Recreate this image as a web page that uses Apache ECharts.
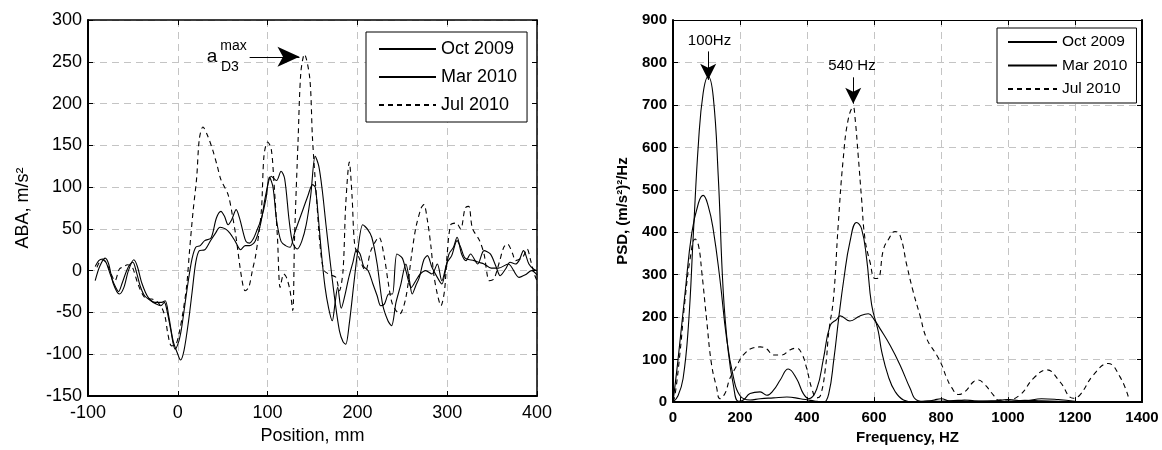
<!DOCTYPE html>
<html>
<head>
<meta charset="utf-8">
<script src="https://cdn.jsdelivr.net/npm/echarts@6/dist/echarts.min.js"></script>
<style>
html,body{margin:0;padding:0;background:#fff;}
#chart{width:1162px;height:450px;}
</style>
</head>
<body>
<div id="chart"></div>
<script>
// ---------- DATA ----------
const seriesNames = ['Oct 2009', 'Mar 2010', 'Jul 2010'];

// Left chart: ABA vs position
const posOct = [-92,-87,-81,-77,-72,-65,-60,-55,-49,-45,
  -40,-33,-25,-18,-14,-10,-5,0,3,7,
  12,16,20,24,30,36,42,47,53,58,
  64,70,75,80,86,92,98,104,110,115,
  119,124,128,133,138,143,148,153,157,161,
  165,170,175,180,184,187,191,196,200,206,
  211,216,222,228,234,238,243,248,254,258,
  261,265,269,274,278,283,289,294,298,302,
  307,311,316,321,326,334,341,348,354,359,
  365,370,376,380,385,391,396,400];
const abaOct = [-12,5,15,8,-15,-28,-20,0,13,5,
  -15,-32,-38,-38,-36,-55,-85,-100,-107,-95,
  -60,-25,10,24,25,35,45,52,50,45,
  35,25,30,30,35,55,91,113,108,119,
  110,60,33,26,35,55,90,137,125,95,
  55,8,-36,-72,-85,-88,-63,-16,20,55,
  50,40,8,-40,-60,-66,-38,-18,8,-12,
  -28,-18,-8,13,18,4,-8,-16,0,20,
  28,40,20,12,20,8,24,20,6,-6,
  2,10,8,12,24,8,2,0];

const posMar = [-92,-88,-84,-80,-75,-70,-66,-62,-57,-53,
  -50,-46,-42,-37,-30,-24,-19,-15,-12,-8,
  -3,1,4,8,12,16,20,25,30,37,
  43,48,52,56,60,65,69,73,76,80,
  84,88,93,98,102,106,110,115,120,125,
  130,135,140,145,150,153,156,160,164,168,
  172,175,178,182,186,190,195,199,203,207,
  212,217,222,226,230,235,239,244,250,254,
  260,265,270,276,283,289,294,300,305,311,
  315,320,330,335,341,349,357,368,380,387,
  394,400];
const abaMar = [5,12,14,10,-5,-18,-25,-15,0,8,
  10,-2,-18,-30,-36,-40,-42,-38,-48,-70,
  -94,-85,-70,-40,-10,15,28,30,36,39,
  63,71,65,55,61,73,62,45,35,33,
  38,48,62,85,112,100,60,35,30,28,
  45,60,75,90,103,100,70,20,-20,-45,
  -60,-40,-20,-45,-30,-10,10,25,20,5,
  0,-15,-30,-42,-40,-28,-28,20,15,0,
  -20,-12,-4,0,-4,8,-12,10,18,36,
  28,15,12,10,8,3,3,8,-8,-5,
  0,-5];

const posJul = [-90,-85,-80,-75,-70,-65,-60,-56,-51,-44,
  -37,-29,-24,-18,-14,-11,-7,-2,2,6,
  10,13,17,21,24,28,33,39,44,48,
  56,61,65,71,75,79,83,87,93,96,
  100,104,107,111,114,118,121,125,128,130,
  134,137,141,147,150,155,159,163,170,176,
  180,184,187,191,194,197,202,209,215,224,
  230,234,239,247,254,260,265,271,274,278,
  282,285,289,293,297,300,304,310,315,320,
  324,328,336,341,347,352,358,363,367,373,
  376,384,389,393,397,400];
const abaJul = [4,13,10,-2,-12,2,5,7,5,-17,
  -32,-34,-36,-44,-56,-76,-90,-88,-72,-48,
  -17,23,71,111,158,172,162,144,125,109,
  91,65,39,-8,-24,-20,0,20,71,138,
  154,146,107,39,-20,-4,-8,-24,-48,39,
  158,237,259,230,158,79,24,0,-5,-8,
  -24,0,79,130,90,31,15,0,24,40,
  16,-12,-40,-52,-32,16,51,75,79,60,
  28,-4,-28,-42,-24,20,55,57,50,75,
  77,51,36,20,-12,-10,10,28,32,20,
  12,16,26,12,-4,-12];

// Right chart: PSD vs frequency
const freqOct = [0,15,30,46,61,76,90,105,120,135,
  150,165,180,195,210,230,260,280,300,320,
  344,369,389,405,429,449,469,489,499,528,
  558,583,600,618,648,678,708,727,757,780,
  800,830,870,900,950,1000,1050,1100,1150,1200];
const psdOct = [0,15,55,180,400,611,728,767,720,533,
  260,119,41,2,5,20,24,16,28,52,
  78,55,20,8,31,102,180,195,203,191,
  203,208,195,173,134,87,32,5,1,5,
  8,2,5,3,2,6,3,8,6,2];

const freqMar = [0,15,36,56,76,90,105,120,140,160,
  180,200,230,260,300,340,380,410,430,450,
  465,480,495,510,528,548,563,578,593,613,
  623,643,663,688,720,760,800,850,900,950,
  1000,1050,1100,1150,1200];
const psdMar = [0,100,257,398,469,487,462,407,290,150,
  60,15,5,8,10,12,8,4,2,0,
  20,100,200,290,377,423,408,338,229,166,
  119,60,25,5,0,3,2,4,1,3,
  2,4,3,2,1];

const freqJul = [0,6,21,36,51,66,76,86,100,115,
  130,140,155,170,190,210,240,260,280,299,
  325,349,369,384,399,414,429,440,455,465,
  479,493,508,523,538,543,553,563,573,588,
  603,613,628,643,663,678,698,717,737,757,
  787,802,817,832,852,872,897,911,931,956,
  971,996,1036,1076,1116,1155,1195,1215,1255,1299,
  1334,1359];
const psdJul = [0,16,117,242,337,384,369,306,197,89,
  35,8,20,56,85,111,128,130,125,111,
  111,123,127,115,80,33,10,15,80,165,
  244,415,572,666,695,673,579,478,385,330,
  291,292,359,383,402,392,322,260,205,150,
  111,88,57,34,18,25,48,52,41,17,
  5,5,17,56,76,48,9,17,64,91,
  60,13];

// axis ticks
const posTicks = {min:-100, max:400, step:100};
const abaTicks = {min:-150, max:300, step:50};
const freqTicks = {min:0, max:1400, step:200};
const psdTicks = {min:0, max:900, step:100};

// ---------- BUILD ----------
const zip = (xs, ys) => xs.map((x, i) => [x, ys[i]]);
const FONT = 'Liberation Sans, Arial, Helvetica, sans-serif';
const gridLine = {show:true, lineStyle:{color:'#c4c4c4', width:1, type:[7,5]}};
const fmt = v => String(v);

function mainX(gi, t, name, fs, gap, bold) {
  return {gridIndex:gi, type:'value', min:t.min, max:t.max, interval:t.step, position:'bottom',
    axisLine:{show:true, onZero:false, lineStyle:{color:'#000', width:2}},
    axisTick:{show:true, inside:true, length:5, lineStyle:{color:'#000', width:1}},
    axisLabel:{color:'#000', fontSize:fs, fontFamily:FONT, fontWeight:bold?'bold':'normal', margin:8, formatter:fmt},
    splitLine:gridLine,
    name:name, nameLocation:'middle', nameGap:gap,
    nameTextStyle:{color:'#000', fontSize:fs, fontFamily:FONT, fontWeight:bold?'bold':'normal'}};
}
function mainY(gi, t, name, fs, gap, bold) {
  return {gridIndex:gi, type:'value', min:t.min, max:t.max, interval:t.step, position:'left',
    axisLine:{show:true, onZero:false, lineStyle:{color:'#000', width:2}},
    axisTick:{show:true, inside:true, length:5, lineStyle:{color:'#000', width:1}},
    axisLabel:{color:'#000', fontSize:fs, fontFamily:FONT, fontWeight:bold?'bold':'normal', margin:6, formatter:fmt},
    splitLine:gridLine,
    name:name, nameLocation:'middle', nameGap:gap, nameRotate:90,
    nameTextStyle:{color:'#000', fontSize:fs, fontFamily:FONT, fontWeight:bold?'bold':'normal'}};
}
function boxX(gi, t, w) {
  return {gridIndex:gi, type:'value', min:t.min, max:t.max, interval:t.step, position:'top',
    axisLine:{show:true, onZero:false, lineStyle:{color:'#000', width:w}},
    axisTick:{show:true, inside:true, length:5, lineStyle:{color:'#000'}},
    axisLabel:{show:false}, splitLine:{show:false}};
}
function boxY(gi, t, w) {
  return {gridIndex:gi, type:'value', min:t.min, max:t.max, interval:t.step, position:'right',
    axisLine:{show:true, onZero:false, lineStyle:{color:'#000', width:w}},
    axisTick:{show:true, inside:true, length:5, lineStyle:{color:'#000'}},
    axisLabel:{show:false}, splitLine:{show:false}};
}

function lineSeries(name, data, xi, yi, dashed, smooth, extra) {
  return Object.assign({
    name:name, type:'line', data:data, xAxisIndex:xi, yAxisIndex:yi,
    symbol:'none', smooth:smooth, clip:true, silent:true,
    lineStyle:{color:'#000', width:1.1, type: dashed ? [5,4] : 'solid'},
    itemStyle:{color:'#000'}, z:3
  }, extra || {});
}

function textPt(coord, txt, fs) {
  return {coord:coord, symbol:'circle', symbolSize:1, itemStyle:{color:'rgba(0,0,0,0)'},
    label:{show:true, position:'inside', formatter:txt, color:'#000', fontSize:fs, fontFamily:FONT}};
}

const leftMarks = {
  markLine:{silent:true, animation:false, label:{show:false},
    lineStyle:{color:'#000', width:1, type:'solid'},
    data:[[{coord:[80,256], symbol:'none'}, {coord:[135.5,256], symbol:'arrow', symbolSize:[15,22]}]]},
  markPoint:{silent:true, animation:false,
    data:[textPt([38,256],'a',19), textPt([62,269],'max',14), textPt([58,243],'D3',14)]}
};
const rightMarks = {
  markLine:{silent:true, animation:false, label:{show:false},
    lineStyle:{color:'#000', width:1, type:'solid'},
    data:[
      [{coord:[105,826], symbol:'none'}, {coord:[105,759], symbol:'arrow', symbolSize:[12,16]}],
      [{coord:[538,765], symbol:'none'}, {coord:[538,703], symbol:'arrow', symbolSize:[12,16]}]
    ]},
  markPoint:{silent:true, animation:false,
    data:[textPt([109,852],'100Hz',15), textPt([534,791],'540 Hz',15)]}
};

const option = {
  animation:false,
  backgroundColor:'#fff',
  textStyle:{fontFamily:FONT},
  grid:[
    {left:88, top:20, width:449, height:378, show:false},
    {left:673, top:20, width:469, height:384, show:false}
  ],
  xAxis:[
    mainX(0, posTicks, 'Position, mm', 18, 31, false),
    boxX(0, posTicks, 1.5),
    mainX(1, freqTicks, 'Frequency, HZ', 15, 26, true),
    boxX(1, freqTicks, 1.2)
  ],
  yAxis:[
    mainY(0, abaTicks, 'ABA, m/s²', 18, 56, false),
    boxY(0, abaTicks, 1.5),
    mainY(1, psdTicks, 'PSD, (m/s²)²/Hz', 15, 43, true),
    boxY(1, psdTicks, 2)
  ],
  legend:[
    {orient:'vertical', left:366, top:32, data:seriesNames, selectedMode:false,
     backgroundColor:'#fff', borderColor:'#000', borderWidth:1, borderRadius:0,
     padding:[8,10,8,12], itemWidth:57, itemHeight:18, itemGap:10, itemStyle:{opacity:0},
     textStyle:{color:'#000', fontSize:18, fontFamily:FONT}},
    {orient:'vertical', left:997, top:28, data:seriesNames, selectedMode:false,
     backgroundColor:'#fff', borderColor:'#000', borderWidth:1, borderRadius:0,
     padding:[6,9,6,10], itemWidth:49, itemHeight:16, itemGap:7.5, itemStyle:{opacity:0},
     textStyle:{color:'#000', fontSize:15.5, fontFamily:FONT}}
  ],
  series:[
    lineSeries(seriesNames[0], zip(posOct, abaOct), 0, 0, false, 0.3),
    lineSeries(seriesNames[1], zip(posMar, abaMar), 0, 0, false, 0.3),
    lineSeries(seriesNames[2], zip(posJul, abaJul), 0, 0, true, 0.3, leftMarks),
    lineSeries(seriesNames[0], zip(freqOct, psdOct), 2, 2, false, 0.45, rightMarks),
    lineSeries(seriesNames[1], zip(freqMar, psdMar), 2, 2, false, 0.45),
    lineSeries(seriesNames[2], zip(freqJul, psdJul), 2, 2, true, 0.45)
  ]
};

const chart = echarts.init(document.getElementById('chart'), null, {renderer:'canvas'});
chart.setOption(option);
</script>
</body>
</html>
